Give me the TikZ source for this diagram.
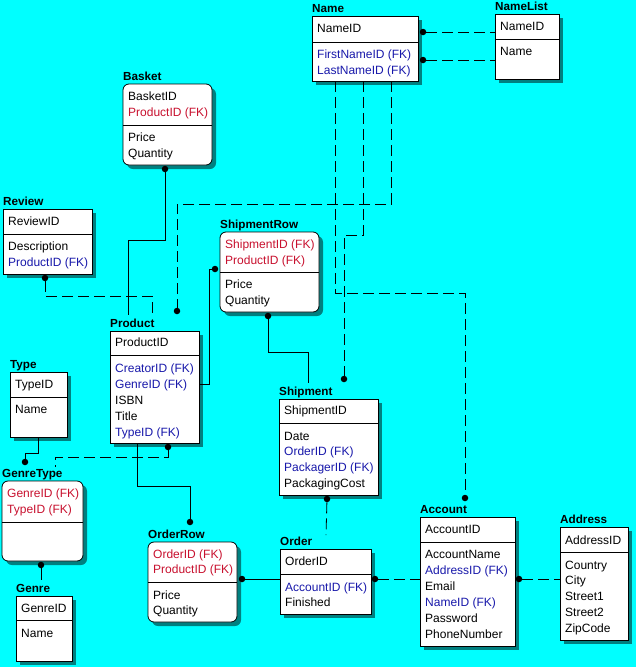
\documentclass[tikz,border=0pt]{standalone}
\usepackage{fontspec}
\setmainfont{Liberation Sans}
\usetikzlibrary{shadows}
\definecolor{bg}{RGB}{0,255,255}
\definecolor{shd}{RGB}{0,128,128}
\definecolor{fkr}{RGB}{200,16,46}
\definecolor{fkb}{RGB}{24,24,170}
\tikzset{
 ent/.style={draw, fill=white, line width=0.8pt, inner sep=0pt, outer sep=0pt,
   drop shadow={shadow xshift=4pt, shadow yshift=-4pt, fill=shd, opacity=1}},
 dep/.style={rounded corners=6pt},
 ind/.style={},
 ttl/.style={anchor=base west, inner sep=0pt, font=\fontsize{11.7}{13}\selectfont\bfseries},
 fld/.style={anchor=base west, inner sep=0pt, font=\fontsize{12}{14}\selectfont},
 rel/.style={line width=0.8pt},
 nrel/.style={line width=0.8pt, dash pattern=on 11pt off 5pt},
 dot/.style={circle, fill=black, inner sep=0pt, minimum size=6.5pt},
}
% #1 name, #2 title, #3 x1, #4 y1, #5 x2, #6 y2, #7 ydiv, #8 style
\newcommand\ent[8]{%
  \node[ent,#8,minimum width={(#5-#3)*1pt},minimum height={(#6-#4)*1pt}] (#1) at ({(#3+#5)/2},{(#4+#6)/2}) {};
  \draw[line width=0.8pt] (#3,#7) -- (#5,#7);
  \node[ttl] (#1-t) at (#3,#4-4) {#2};
}
% #1 prefix, #2 x, #3 first baseline, #4 list colour/text
\newcommand\rows[4]{%
  \foreach \c/\t [count=\i from 0] in {#4} {\node[fld,text=\c] (#1-\i) at (#2+5,#3+\i*15.9) {\t};}
}
\begin{document}
\begin{tikzpicture}[x=1pt,y=-1pt]
\useasboundingbox (0,0) rectangle (636,667);
\fill[bg] (0,0) rectangle (636,667);

% ---------- entities ----------
\ent{Name}{Name}{312}{16}{418}{81}{42}{ind}
\rows{NameK}{312}{32.8}{black/NameID}
\rows{NameN}{312}{58.8}{fkb/FirstNameID (FK),fkb/LastNameID (FK)}

\ent{NameList}{NameList}{495}{14}{559}{79}{39}{ind}
\rows{NameListK}{495}{30.8}{black/NameID}
\rows{NameListN}{495}{55.8}{black/Name}

\ent{Basket}{Basket}{123}{84}{212}{165}{125}{dep}
\rows{BasketK}{123}{100.8}{black/BasketID,fkr/ProductID (FK)}
\rows{BasketN}{123}{141.8}{black/Price,black/Quantity}

\ent{Review}{Review}{3}{209}{92}{274}{234}{ind}
\rows{ReviewK}{3}{225.8}{black/ReviewID}
\rows{ReviewN}{3}{250.8}{black/Description,fkb/ProductID (FK)}

\ent{ShipmentRow}{ShipmentRow}{220}{232}{319}{312}{272}{dep}
\rows{ShipmentRowK}{220}{248.3}{fkr/ShipmentID (FK),fkr/ProductID (FK)}
\rows{ShipmentRowN}{220}{288.8}{black/Price,black/Quantity}

\ent{Product}{Product}{110}{331}{199}{443}{355}{ind}
\rows{ProductK}{110}{346.5}{black/ProductID}
\rows{ProductN}{110}{372.5}{fkb/CreatorID (FK),fkb/GenreID (FK),black/ISBN,black/Title,fkb/TypeID (FK)}

\ent{Type}{Type}{10}{372}{67}{437}{397}{ind}
\rows{TypeK}{10}{388.5}{black/TypeID}
\rows{TypeN}{10}{413.8}{black/Name}

\ent{GenreType}{GenreType}{2}{481}{83}{561}{522}{dep}
\rows{GenreTypeK}{2}{497.5}{fkr/GenreID (FK),fkr/TypeID (FK)}

\ent{Genre}{Genre}{16}{596}{72}{661}{620}{ind}
\rows{GenreK}{16}{612.5}{black/GenreID}
\rows{GenreN}{16}{637}{black/Name}

\ent{Shipment}{Shipment}{279}{399}{378}{495}{423}{ind}
\rows{ShipmentK}{279}{414.8}{black/ShipmentID}
\rows{ShipmentN}{279}{440}{black/Date,fkb/OrderID (FK),fkb/PackagerID (FK),black/PackagingCost}

\ent{OrderRow}{OrderRow}{148}{542}{237}{622}{582}{dep}
\rows{OrderRowK}{148}{558}{fkr/OrderID (FK),fkr/ProductID (FK)}
\rows{OrderRowN}{148}{599}{black/Price,black/Quantity}

\ent{Order}{Order}{280}{549}{371}{614}{574}{ind}
\rows{OrderK}{280}{565.5}{black/OrderID}
\rows{OrderN}{280}{591}{fkb/AccountID (FK),black/Finished}

\ent{Account}{Account}{420}{517}{515}{646}{542}{ind}
\rows{AccountK}{420}{533.5}{black/AccountID}
\rows{AccountN}{420}{558.8}{black/AccountName,fkb/AddressID (FK),black/Email,fkb/NameID (FK),black/Password,black/PhoneNumber}

\ent{Address}{Address}{560}{527}{628}{640}{552}{ind}
\rows{AddressK}{560}{544}{black/AddressID}
\rows{AddressN}{560}{569}{black/Country,black/City,black/Street1,black/Street2,black/ZipCode}

% ---------- relationship ends ----------
\node[dot] (dNL1) at (423,32) {};
\node[dot] (dNL2) at (423,60) {};
\node[dot] (dBsk) at (165,169) {};
\node[dot] (dRev) at (45,278) {};
\node[dot] (dPrN) at (177,311) {};
\node[dot] (dShN) at (344,379) {};
\node[dot] (dAcN) at (465,498) {};
\node[dot] (dSRP) at (215,269) {};
\node[dot] (dSRS) at (268,316) {};
\node[dot] (dPGT) at (168,447) {};
\node[dot] (dTGT) at (25,462) {};
\node[dot] (dGGT) at (41,565) {};
\node[dot] (dPOR) at (190,522) {};
\node[dot] (dORO) at (242,579) {};
\node[dot] (dShO) at (327,499) {};
\node[dot] (dOAc) at (375,579) {};
\node[dot] (dAcA) at (519,579) {};

\coordinate (eBskP) at (128,315);
\coordinate (eRevP) at (152,315);
\coordinate (eNm1) at (391,81);
\coordinate (eNm2) at (363,81);
\coordinate (eNm3) at (335,81);
\coordinate (eSRP) at (Product.east |- 0,384);
\coordinate (eSRS) at (308,383);
\coordinate (ePGT) at (55,467);
\coordinate (eTGT) at (38,437);
\coordinate (eGGT) at (41,580);
\coordinate (ePOR) at (137,443);
\coordinate (eShO) at (326,535);

% ---------- connectors ----------
\draw[nrel] (dNL1) -- (NameList.west |- dNL1);
\draw[nrel] (dNL2) -- (NameList.west |- dNL2);
\draw[rel] (dBsk) -- (165,240) -- (128,240) -- (eBskP);
\draw[nrel] (dRev) -- (45,296) -- (152,296) -- (eRevP);
\draw[nrel] (eNm1) -- (391,204) -- (177,204) -- (dPrN);
\draw[nrel] (eNm2) -- (363,235) -- (344,235) -- (dShN);
\draw[nrel] (eNm3) -- (335,293) -- (465,293) -- (dAcN);
\draw[rel] (eSRP) -- (209,384) -- (209,269) -- (dSRP);
\draw[rel] (dSRS) -- (268,352) -- (308,352) -- (eSRS);
\draw[nrel] (dPGT) -- (168,457) -- (55,457) -- (ePGT);
\draw[rel] (eTGT) -- (38,453) -- (25,453) -- (dTGT);
\draw[rel] (dGGT) -- (eGGT);
\draw[rel] (ePOR) -- (137,486) -- (190,486) -- (dPOR);
\draw[rel] (dORO) -- (Order.west |- dORO);
\draw[nrel] (dShO) -- (eShO);
\draw[nrel] (dOAc) -- (Account.west |- dOAc);
\draw[nrel] (dAcA) -- (Address.west |- dAcA);
\end{tikzpicture}
\end{document}
